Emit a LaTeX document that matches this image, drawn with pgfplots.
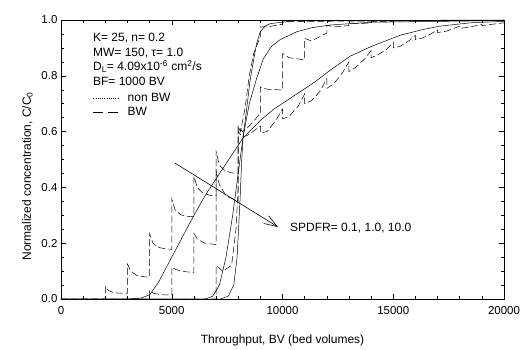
\documentclass[border=0pt]{standalone}
\usepackage{pgfplots}
\pgfplotsset{compat=1.18}
\usepackage{fontspec}
\setmainfont{Liberation Sans}
\usetikzlibrary{arrows.meta}

\begin{document}
\begin{tikzpicture}
\begin{axis}[
  scale only axis,
  width=443bp, height=279bp,
  xmin=0, xmax=20000, ymin=0, ymax=1,
  xtick={0,5000,10000,15000,20000},
  ytick={0,0.2,0.4,0.6,0.8,1.0},
  minor x tick num=4,
  minor y tick num=3,
  tick align=inside,
  major tick length=5bp,
  minor tick length=3bp,
  tick style={black, line width=0.5bp},
  axis line style={line width=0.8bp},
  /pgf/number format/assume math mode=true,
  /pgf/number format/1000 sep={},
  yticklabel style={/pgf/number format/fixed, /pgf/number format/precision=1, /pgf/number format/fixed zerofill},
  scaled ticks=false,
  tick label style={font=\fontsize{11.5bp}{13bp}\selectfont},
  xticklabel style={yshift=-4bp},
  label style={font=\fontsize{12bp}{14bp}\selectfont},
  xlabel={Throughput, BV (bed volumes)},
  ylabel={Normalized concentration, C/C\textsubscript{0}},
  xlabel style={yshift=-13bp},
  ylabel style={at={(ticklabel cs:0.44)}, yshift=2bp},
  clip=true,
  legend image code/.code={\draw[#1] (0bp,0bp) -- (25bp,0bp);},
  legend style={at={(axis cs:1440,0.737)}, anchor=north west, draw=none, fill=none,
    font=\fontsize{12bp}{14bp}\selectfont, inner sep=0pt, row sep=4bp, column sep=9bp,
    nodes={inner sep=0pt}},
  legend cell align=left,
]
% legend images
\addlegendimage{black, line width=0.6bp, dash pattern=on 1bp off 1.2bp}
\addlegendentry{non BW}
\addlegendimage{black, line width=0.6bp, dash pattern=on 10bp off 5bp}
\addlegendentry{BW}

% non-BW, SPDFR = 0.1
\addplot[black, line width=0.5bp, forget plot] coordinates {
(0,0) (3000,0) (3600,0.003) (4000,0.015) (4400,0.06) (4800,0.12) (5200,0.18)
(5900,0.285) (6500,0.37) (7200,0.455) (7700,0.515) (8200,0.575) (9000,0.64)
(9600,0.68) (10650,0.735) (11500,0.78) (12150,0.82) (13050,0.87) (14000,0.905)
(15300,0.945) (16300,0.965) (17100,0.978) (18500,0.99) (20000,0.995)};

% non-BW, SPDFR = 1.0
\addplot[black, line width=0.5bp, forget plot] coordinates {
(0,0) (6500,0) (6850,0.01) (7150,0.05) (7450,0.15) (7750,0.3) (8000,0.45)
(8220,0.58) (8500,0.70) (8830,0.79) (9130,0.86) (9500,0.905) (9900,0.93)
(10650,0.958) (11300,0.972) (12150,0.982) (14000,0.992) (20000,0.998)};

% non-BW, SPDFR = 10.0
\addplot[black, line width=0.5bp, forget plot] coordinates {
(0,0) (7200,0) (7550,0.01) (7800,0.05) (7950,0.15) (8080,0.35) (8160,0.5)
(8220,0.58) (8380,0.68) (8530,0.78) (8680,0.85) (8830,0.915) (8980,0.955)
(9200,0.978) (9440,0.987) (10500,0.997) (20000,1.0)};

% BW, SPDFR = 0.1
\addplot[black, line width=0.5bp, dash pattern=on 7bp off 3bp, forget plot] coordinates {
(0,0) (2000,0) (2000,0.045) (2150,0.03) (2400,0.022) (3000,0.02)
(3000,0.125) (3150,0.1) (3400,0.085) (3700,0.08) (4000,0.078)
(4000,0.235) (4150,0.2) (4400,0.185) (4700,0.18) (5000,0.178)
(5000,0.36) (5150,0.32) (5400,0.302) (5700,0.296) (6000,0.295)
(6000,0.44) (6150,0.40) (6400,0.38) (6700,0.372) (7000,0.37)
(7000,0.53) (7150,0.48) (7400,0.46) (7700,0.452) (8000,0.45)
(8000,0.60) (8200,0.58) (8500,0.59) (9000,0.62)
(9000,0.595) (9300,0.60) (9700,0.64) (10000,0.68)
(10000,0.645) (10300,0.655) (10700,0.69) (11000,0.735)
(11000,0.70) (11300,0.71) (11700,0.745) (12000,0.79)
(12000,0.755) (12300,0.77) (12700,0.81) (13000,0.85)
(13000,0.815) (13300,0.83) (13700,0.86) (14000,0.89)
(14000,0.865) (14300,0.875) (14700,0.895) (15000,0.92)
(15000,0.90) (15300,0.905) (15700,0.925) (16000,0.945)
(16000,0.93) (16300,0.935) (16700,0.95) (17000,0.965)
(17000,0.955) (17400,0.96) (18000,0.978)
(18000,0.97) (18500,0.975) (19000,0.985)
(19000,0.98) (19500,0.985) (20000,0.99)};

% BW, SPDFR = 1.0
\addplot[black, line width=0.5bp, dash pattern=on 7bp off 3bp, forget plot] coordinates {
(0,0) (4000,0) (4000,0.03) (4200,0.02) (4600,0.015) (5000,0.015)
(5000,0.115) (5200,0.105) (5600,0.098) (6000,0.095)
(6000,0.235) (6150,0.215) (6500,0.2) (7000,0.195)
(7000,0.46) (7150,0.41) (7450,0.37) (8000,0.35)
(8000,0.62) (8200,0.60) (8500,0.62) (9000,0.665)
(9000,0.76) (9300,0.752) (10000,0.749)
(10000,0.88) (10300,0.865) (11000,0.857)
(11000,0.934) (11300,0.925) (12000,0.953)
(12000,0.982) (12300,0.975) (13000,0.98)
(13000,0.99) (13500,0.987) (14000,0.99)
(14000,0.995) (15000,0.994) (15000,0.997) (20000,0.998)};

% BW, SPDFR = 10.0
\addplot[black, line width=0.5bp, dash pattern=on 7bp off 3bp, forget plot] coordinates {
(0,0) (7000,0) (7000,0.12) (7300,0.10) (7700,0.12) (7900,0.25) (8000,0.4)
(8000,0.62) (8100,0.60) (8300,0.68) (8500,0.80) (8700,0.88) (9000,0.94)
(9000,0.975) (9300,0.975) (10000,0.985) (10000,0.993) (11000,0.995) (20000,0.999)};

% arrow and annotation
\draw[line width=0.6bp, -{Straight Barb[length=13bp, width=9bp, line width=0.6bp]}]
  (axis cs:5147,0.487) -- (axis cs:9798,0.258);
\node[anchor=west, inner sep=0pt, font=\fontsize{12bp}{14bp}\selectfont] at (axis cs:10340,0.255) {SPDFR= 0.1, 1.0, 10.0};

% parameter block
\node[anchor=north west, inner sep=0pt, align=left, font=\fontsize{12bp}{14.5bp}\selectfont]
  at (axis cs:1440,0.953) {K= 25, n= 0.2\\MW= 150, τ= 1.0\\D\textsubscript{L}= 4.09x10\textsuperscript{-6} cm\textsuperscript{2}/s\\BF= 1000 BV};
\end{axis}
\path ([xshift=-61bp,yshift=-44bp]current axis.south west) rectangle ([xshift=20bp,yshift=20bp]current axis.north east);
\end{tikzpicture}
\end{document}
